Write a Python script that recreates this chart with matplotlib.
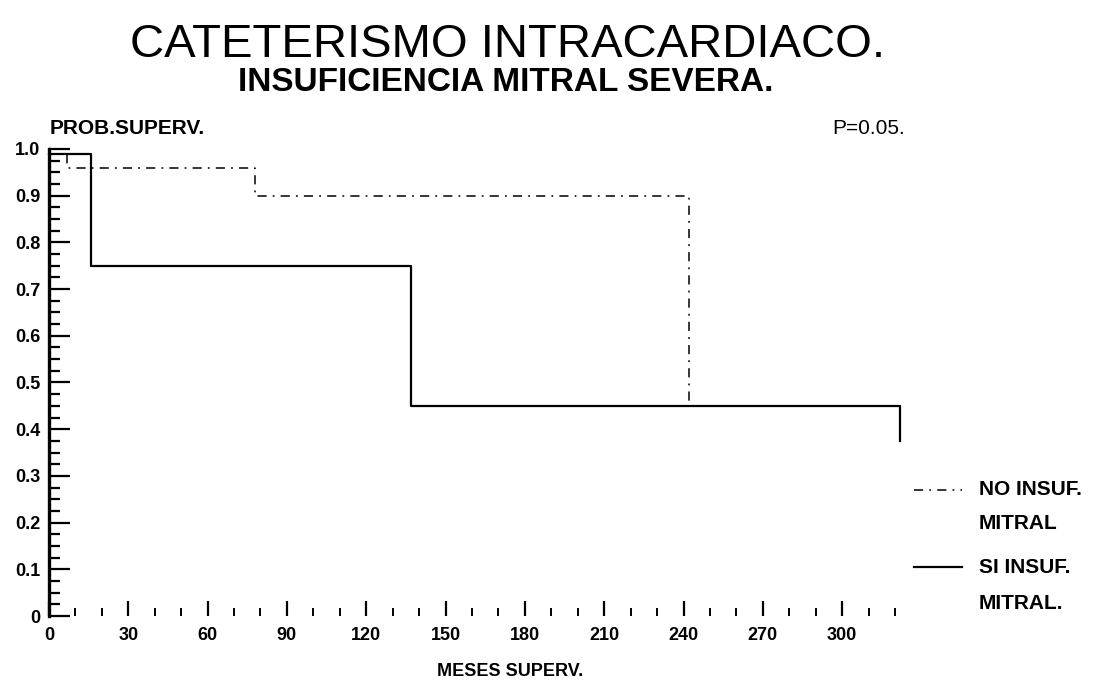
import matplotlib.pyplot as plt
from matplotlib.ticker import MultipleLocator, FixedLocator

plt.rcParams['font.family'] = ['Liberation Sans', 'DejaVu Sans']

# Kaplan-Meier steps (months, survival probability)
no_months = [0, 7, 78, 242]
no_surv = [1.0, 0.96, 0.90, 0.45]
si_months = [0, 16, 137, 322]
si_surv = [0.99, 0.75, 0.45, 0.375]

x_ticks = [0, 30, 60, 90, 120, 150, 180, 210, 240, 270, 300]
y_ticks = [0, 0.1, 0.2, 0.3, 0.4, 0.5, 0.6, 0.7, 0.8, 0.9, 1.0]
y_labels = ['0', '0.1', '0.2', '0.3', '0.4', '0.5', '0.6', '0.7', '0.8', '0.9', '1.0']

fig = plt.figure(figsize=(11.1, 6.91), dpi=100)
ax = fig.add_axes([0.0441, 0.1085, 0.767, 0.676])

dashdot = (0, (6, 4, 1.2, 4))
ax.step(no_months, no_surv, where='post', color='black', lw=1.1,
        linestyle=dashdot, clip_on=False)
ax.step(si_months, si_surv, where='post', color='black', lw=1.6, clip_on=False)

ax.set_xlim(0, 322)
ax.set_ylim(0, 1.0)

for side in ['top', 'right', 'bottom']:
    ax.spines[side].set_visible(False)
ax.spines['left'].set_linewidth(2.4)

ax.xaxis.set_major_locator(FixedLocator(x_ticks))
ax.xaxis.set_minor_locator(MultipleLocator(10))
ax.set_xticklabels([str(v) for v in x_ticks])
ax.yaxis.set_major_locator(FixedLocator(y_ticks))
ax.yaxis.set_minor_locator(MultipleLocator(0.025))
ax.set_yticklabels(y_labels)

ax.tick_params(axis='y', which='major', direction='in', length=15, width=1.6,
               pad=6, labelsize=13)
ax.tick_params(axis='y', which='minor', direction='in', length=8, width=1.6)
ax.tick_params(axis='x', which='major', direction='in', length=11, width=1.6,
               pad=8, labelsize=13)
ax.tick_params(axis='x', which='minor', direction='in', length=6, width=1.4)
for lab in ax.get_xticklabels() + ax.get_yticklabels():
    lab.set_fontweight('bold')

fig.text(0.46, 0.028, 'MESES SUPERV.', ha='center', va='center', fontsize=13,
         fontweight='bold')

fig.text(0.457, 0.935, 'CATETERISMO INTRACARDIACO.', ha='center', va='center',
         fontsize=34)
fig.text(0.456, 0.88, 'INSUFICIENCIA MITRAL SEVERA.', ha='center', va='center',
         fontsize=24, fontweight='bold')
fig.text(0.045, 0.80, 'PROB.SUPERV.', ha='left', va='bottom', fontsize=15,
         fontweight='bold')
fig.text(0.815, 0.80, 'P=0.05.', ha='right', va='bottom', fontsize=15)

# legend drawn by hand to the right of the axes
leg_x0, leg_x1, text_x = 0.823, 0.867, 0.882
legend_font = dict(va='center', fontsize=15, fontweight='bold')
fig.add_artist(plt.Line2D([leg_x0, leg_x1], [0.291, 0.291], color='black',
                          lw=1.1, linestyle=dashdot))
fig.text(text_x, 0.291, 'NO INSUF.', **legend_font)
fig.text(text_x, 0.243, 'MITRAL', **legend_font)
fig.add_artist(plt.Line2D([leg_x0, leg_x1], [0.179, 0.179], color='black', lw=1.6))
fig.text(text_x, 0.179, 'SI INSUF.', **legend_font)
fig.text(text_x, 0.127, 'MITRAL.', **legend_font)

fig.savefig('out.png', dpi=100)
